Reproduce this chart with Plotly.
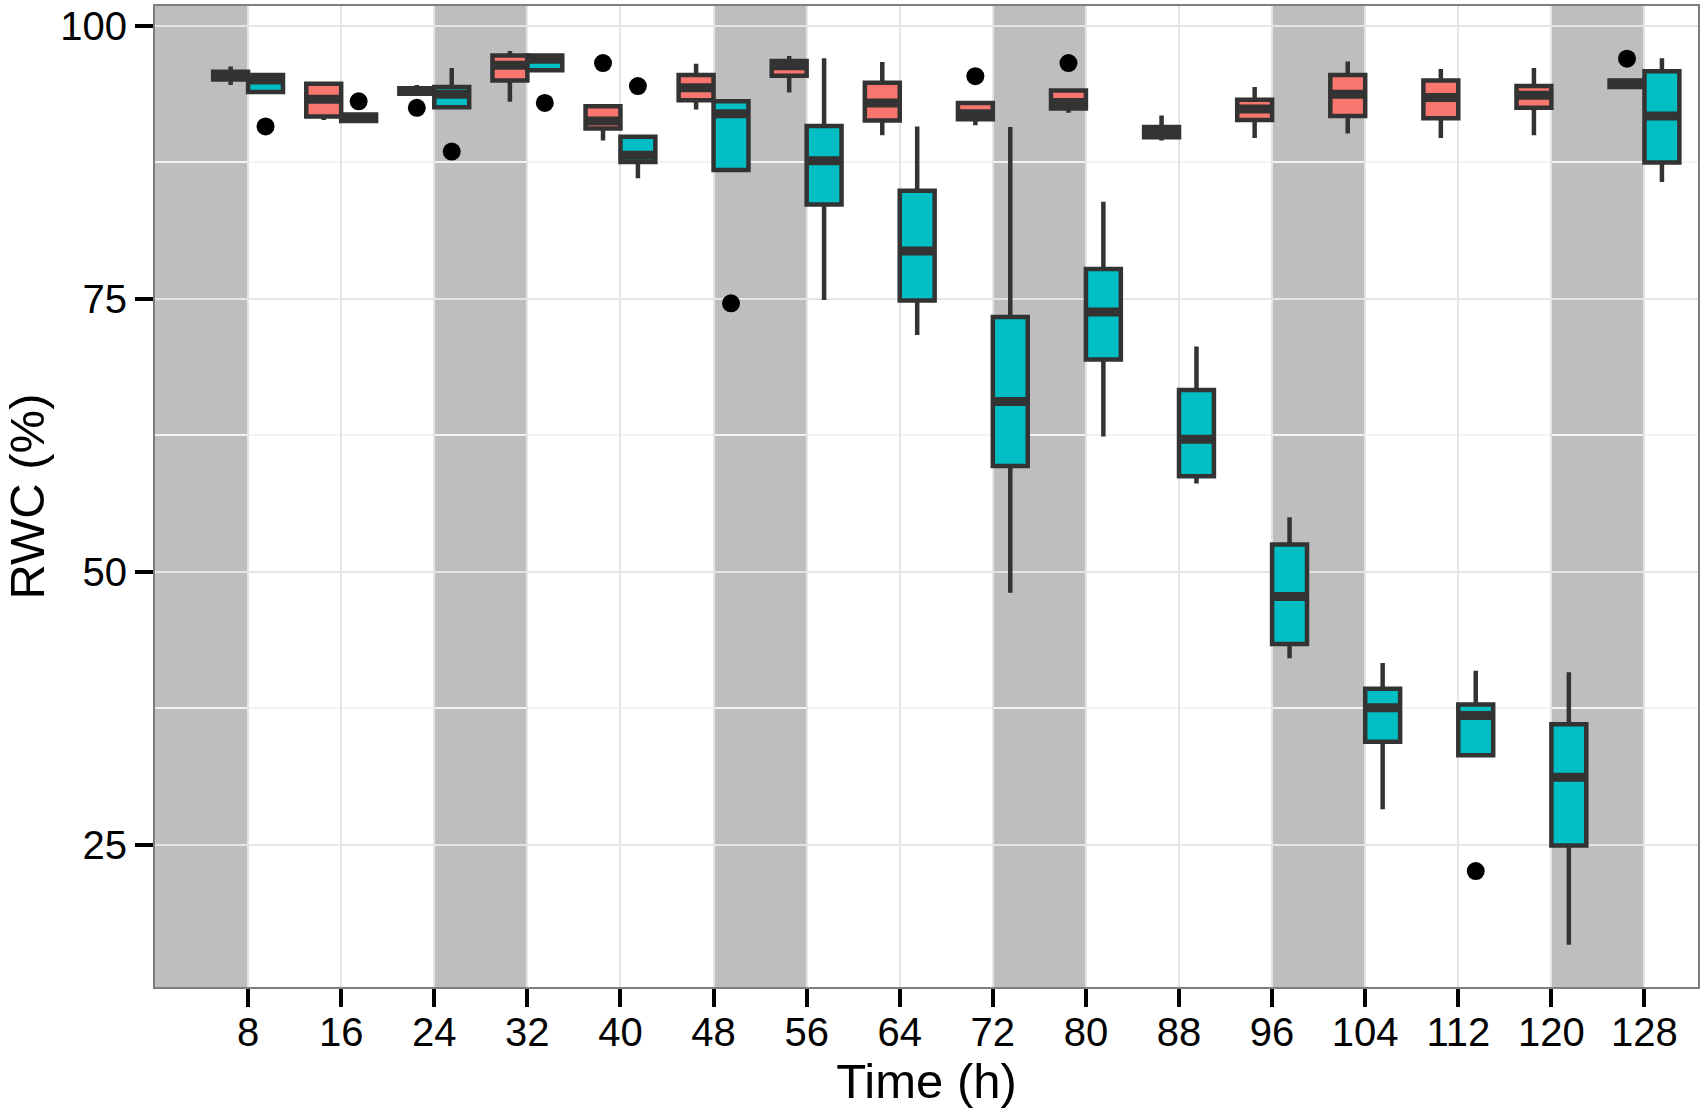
import plotly.graph_objects as go

# ---------------- data ----------------
TIME = [8, 16, 24, 32, 40, 48, 56, 64, 72, 80, 88, 96, 104, 112, 120, 128]
TICK_LABELS = [str(t) for t in TIME]
Y_TICKS = [25, 50, 75, 100]
Y_MINOR = [37.5, 62.5, 87.5]
DARK_START = [0, 24, 48, 72, 96, 120]   # dark periods (h)
DARK_LENGTH = 8

# Control (red) box statistics
CTRL_Q1  = [95.1, 91.7, 93.8, 95.0, 90.6, 93.2, 95.45, 91.35, 91.45, 92.45, 89.8, 91.4, 91.75, 91.55, 92.5, 94.4]
CTRL_MED = [95.5, 93.3, 94.0, 96.4, 91.3, 94.35, 96.35, 92.95, 91.95, 93.0, 90.3, 92.4, 93.75, 93.45, 93.65, 94.75]
CTRL_Q3  = [95.8, 94.7, 94.3, 97.3, 92.65, 95.5, 96.8, 94.8, 92.95, 94.1, 90.75, 93.25, 95.5, 95.0, 94.5, 95.0]
CTRL_LO  = [94.6, 91.4, 93.7, 93.05, 89.5, 92.35, 93.9, 90.0, 90.9, 92.05, 89.5, 89.75, 90.15, 89.75, 90.0, 94.4]
CTRL_HI  = [96.3, 94.7, 94.6, 97.7, 92.65, 96.55, 97.25, 96.7, 92.95, 94.1, 91.8, 94.4, 96.75, 96.05, 96.15, 95.0]
CTRL_OUT_T = [24, 40, 72, 80, 128]
CTRL_OUT_Y = [92.5, 96.6, 95.4, 96.6, 97.0]

# Drought (teal) box statistics
DRT_Q1  = [93.95, 91.3, 92.55, 95.95, 87.55, 86.8, 83.65, 74.85, 59.7, 69.45, 58.75, 43.4, 34.45, 33.2, 24.95, 87.5]
DRT_MED = [95.05, 91.6, 93.75, 96.95, 88.15, 91.95, 87.65, 79.4, 65.6, 73.8, 62.15, 47.75, 37.55, 36.85, 31.2, 91.75]
DRT_Q3  = [95.5, 91.9, 94.4, 97.3, 89.85, 93.1, 90.85, 84.9, 73.35, 77.75, 66.65, 52.5, 39.3, 37.85, 36.05, 95.85]
DRT_LO  = [93.95, 91.3, 92.55, 95.95, 86.05, 86.8, 74.9, 71.7, 48.1, 62.4, 58.1, 42.1, 28.25, 33.2, 15.85, 85.7]
DRT_HI  = [95.5, 91.9, 96.15, 97.3, 89.85, 93.1, 97.05, 90.8, 90.75, 83.9, 70.65, 55.0, 41.65, 40.95, 40.8, 97.05]
DRT_OUT_T = [8, 16, 24, 32, 40, 48, 112]
DRT_OUT_Y = [90.8, 93.1, 88.5, 92.95, 94.5, 74.6, 22.6]

# ---------------- style ----------------
RED = "#F8766D"
TEAL = "#00BFC4"
EDGE = "#333333"
DODGE = 1.5       # h, horizontal offset of each group
BOX_W = 3.0       # h, box width
FONT = "Liberation Sans, Arial, Helvetica, sans-serif"

fig = go.Figure()

groups = [
    ("Control", RED, -DODGE, CTRL_Q1, CTRL_MED, CTRL_Q3, CTRL_LO, CTRL_HI, CTRL_OUT_T, CTRL_OUT_Y),
    ("Drought", TEAL, DODGE, DRT_Q1, DRT_MED, DRT_Q3, DRT_LO, DRT_HI, DRT_OUT_T, DRT_OUT_Y),
]

for name, col, off, q1, med, q3, lo, hi, ot, oy in groups:
    xs = [t + off for t in TIME]
    fig.add_trace(go.Box(
        name=name, x=xs, q1=q1, median=med, q3=q3,
        lowerfence=lo, upperfence=hi,
        width=BOX_W, fillcolor=col,
        line=dict(color=EDGE, width=4.5),
        whiskerwidth=0, boxpoints=False, showlegend=False,
        hoverinfo="skip",
    ))

for name, col, off, q1, med, q3, lo, hi, ot, oy in groups:
    mx, my = [], []
    for t, m in zip(TIME, med):
        mx += [t + off - BOX_W / 2, t + off + BOX_W / 2, None]
        my += [m, m, None]
    fig.add_trace(go.Scatter(
        x=mx, y=my, mode="lines",
        line=dict(color=EDGE, width=9),
        showlegend=False, hoverinfo="skip",
    ))
    fig.add_trace(go.Scatter(
        x=[t + off for t in ot], y=oy, mode="markers",
        marker=dict(color="black", size=18, line=dict(width=0)),
        showlegend=False, hoverinfo="skip",
    ))

for s in DARK_START:
    fig.add_shape(type="rect", xref="x", yref="paper",
                  x0=s, x1=s + DARK_LENGTH, y0=0, y1=1,
                  fillcolor="#BEBEBE", line=dict(width=0), layer="below")

fig.update_layout(
    width=1704, height=1113,
    margin=dict(l=155, r=5, t=4, b=126),
    paper_bgcolor="white", plot_bgcolor="white",
    font=dict(family=FONT, color="black"),
    showlegend=False,
    boxmode="overlay",
)

fig.update_xaxes(
    range=[0, 132.6],
    tickmode="array", tickvals=TIME, ticktext=TICK_LABELS,
    ticks="outside", ticklen=18, tickwidth=4, tickcolor="black",
    tickfont=dict(size=40, family=FONT, color="black"),
    ticklabelstandoff=-9,
    showgrid=True, gridcolor="#E5E5E5", gridwidth=2,
    zeroline=False,
    showline=True, mirror=True, linecolor="#7F7F7F", linewidth=2,
    title=dict(text="Time (h)", font=dict(size=49, family=FONT, color="black"), standoff=8),
)
fig.update_yaxes(
    range=[11.98, 101.83],
    tickmode="array", tickvals=Y_TICKS,
    ticks="outside", ticklen=18, tickwidth=4, tickcolor="black",
    tickfont=dict(size=40, family=FONT, color="black"),
    showgrid=True, gridcolor="#E5E5E5", gridwidth=2,
    minor=dict(tickvals=Y_MINOR, showgrid=True, gridcolor="#F3F3F3", gridwidth=2, ticks=""),
    zeroline=False,
    showline=True, mirror=True, linecolor="#7F7F7F", linewidth=2,
    title=dict(text="RWC (%)", font=dict(size=49, family=FONT, color="black"), standoff=6),
)

fig.write_html("out.html", config={"displayModeBar": False},
               post_script="document.body.style.margin='0px';")
